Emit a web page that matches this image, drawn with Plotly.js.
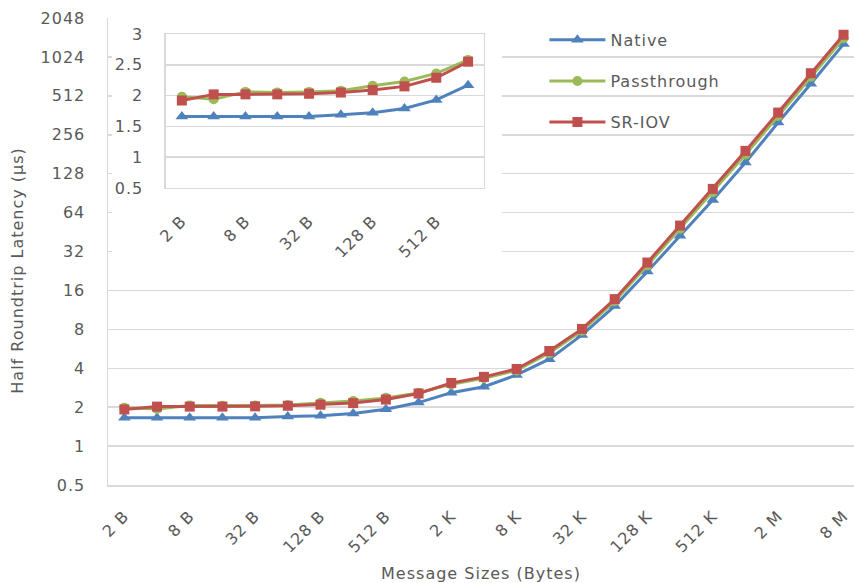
<!DOCTYPE html>
<html>
<head>
<meta charset="utf-8">
<script src="https://cdn.plot.ly/plotly-3.0.1.min.js"></script>
<style>html,body{margin:0;padding:0;background:#fff;}#chart{width:854px;height:583px;}svg text{letter-spacing:1px;}</style>
</head>
<body>
<div id="chart"></div>
<script>
var sizes = ["2 B","4 B","8 B","16 B","32 B","64 B","128 B","256 B","512 B","1 K","2 K","4 K","8 K","16 K","32 K","64 K","128 K","256 K","512 K","1 M","2 M","4 M","8 M"];
var sizeTicks = ["2 B","8 B","32 B","128 B","512 B","2 K","8 K","32 K","128 K","512 K","2 M","8 M"];
var native = [1.66,1.66,1.66,1.66,1.66,1.69,1.72,1.79,1.93,2.17,2.59,2.88,3.55,4.70,7.24,12.1,22.4,42.3,80.2,156,318,634,1287];
var passthrough = [1.98,1.94,2.06,2.05,2.06,2.08,2.16,2.23,2.36,2.58,3.0,3.35,3.85,5.25,7.8,13.2,25,48,92,180,358,720,1430];
var sriov = [1.92,2.02,2.02,2.02,2.03,2.05,2.09,2.15,2.29,2.55,3.08,3.43,3.95,5.44,8.06,13.7,26.3,50.8,97.6,192,380,766,1520];
var yTicks = [0.5,1,2,4,8,16,32,64,128,256,512,1024,2048];
var insetCount = 10;
var insetTicks = ["2 B","8 B","32 B","128 B","512 B"];
var insetYTicks = [0.5,1,1.5,2,2.5,3];

var txt = '#595959', grid = '#d9d9d9';
var fnt = {family: 'DejaVu Sans, sans-serif', size: 16, color: txt};
var series = [
  {name: 'Native', y: native, color: '#4F81BD', symbol: 'triangle-up', size: 11, legend: 'legend'},
  {name: 'Passthrough', y: passthrough, color: '#9BBB59', symbol: 'circle', size: 10, legend: 'legend2'},
  {name: 'SR-IOV', y: sriov, color: '#C0504D', symbol: 'square', size: 10, legend: 'legend3'}
];
var traces = [];
series.forEach(function(s){
  traces.push({x: sizes, y: s.y, name: s.name, type: 'scatter', mode: 'lines+markers',
    line: {color: s.color, width: 3}, marker: {color: s.color, symbol: s.symbol, size: s.size},
    xaxis: 'x', yaxis: 'y', legend: s.legend});
});
traces.push({x: [], y: [], xaxis: 'x2', yaxis: 'y2', showlegend: false, type: 'scatter'});
series.forEach(function(s){
  traces.push({x: sizes.slice(0, insetCount), y: s.y.slice(0, insetCount), name: s.name, type: 'scatter', mode: 'lines+markers',
    line: {color: s.color, width: 3}, marker: {color: s.color, symbol: s.symbol, size: s.size},
    xaxis: 'x3', yaxis: 'y3', showlegend: false});
});
function leg(y){ return {x: 0.585, y: y, xanchor: 'left', yanchor: 'middle', font: fnt, bgcolor: 'rgba(0,0,0,0)', itemwidth: 56}; }
var layout = {
  width: 854, height: 583,
  margin: {l: 108, r: 0, t: 18, b: 98},
  paper_bgcolor: '#fff', plot_bgcolor: '#fff',
  font: fnt,
  showlegend: true,
  legend: leg(0.953), legend2: leg(0.865), legend3: leg(0.777),
  xaxis: {type: 'category', categoryorder: 'array', categoryarray: sizes, range: [-0.5, 22.32],
    tickvals: sizeTicks, tickangle: -45, showgrid: false, showline: true, linecolor: grid, linewidth: 1.5,
    ticks: '', ticklabelstandoff: 14, tickfont: fnt, zeroline: false,
    title: {text: 'Message Sizes (Bytes)', font: fnt, standoff: 12}},
  yaxis: {type: 'log', range: [Math.log10(0.5), Math.log10(2048)], tickvals: yTicks, ticktext: yTicks.map(String),
    showgrid: true, gridcolor: grid, gridwidth: 1.5, showline: true, linecolor: grid, linewidth: 1.5,
    ticks: '', ticklabelstandoff: 18, tickfont: fnt, zeroline: false},
  xaxis2: {domain: [0.0054, 0.528], anchor: 'y2', showgrid: false, showline: false, showticklabels: false, zeroline: false, ticks: '', fixedrange: true},
  yaxis2: {domain: [0.465, 1], anchor: 'x2', showgrid: false, showline: false, showticklabels: false, zeroline: false, ticks: '', fixedrange: true},
  xaxis3: {domain: [0.0777, 0.504], anchor: 'y3', type: 'category', categoryorder: 'array', categoryarray: sizes.slice(0, insetCount),
    range: [-0.5, 9.5], tickvals: insetTicks, tickangle: -45, showgrid: false, showline: true, mirror: true, linecolor: grid, linewidth: 1.5,
    ticks: '', ticklabelstandoff: 16, tickfont: fnt, zeroline: false},
  yaxis3: {domain: [0.636, 0.9657], anchor: 'x3', range: [0.5, 3], tickvals: insetYTicks, ticktext: insetYTicks.map(String),
    showgrid: true, gridcolor: grid, gridwidth: 1.5, showline: true, mirror: true, linecolor: grid, linewidth: 1.5,
    ticks: '', ticklabelstandoff: 18, tickfont: fnt, zeroline: false},
  annotations: [{text: 'Half Roundtrip Latency (µs)', xref: 'paper', yref: 'paper', x: -0.1213, y: 0.46,
    xanchor: 'center', yanchor: 'middle', textangle: -90, showarrow: false, font: fnt}]
};
Plotly.newPlot('chart', traces, layout, {displayModeBar: false, staticPlot: true});
</script>
</body>
</html>
